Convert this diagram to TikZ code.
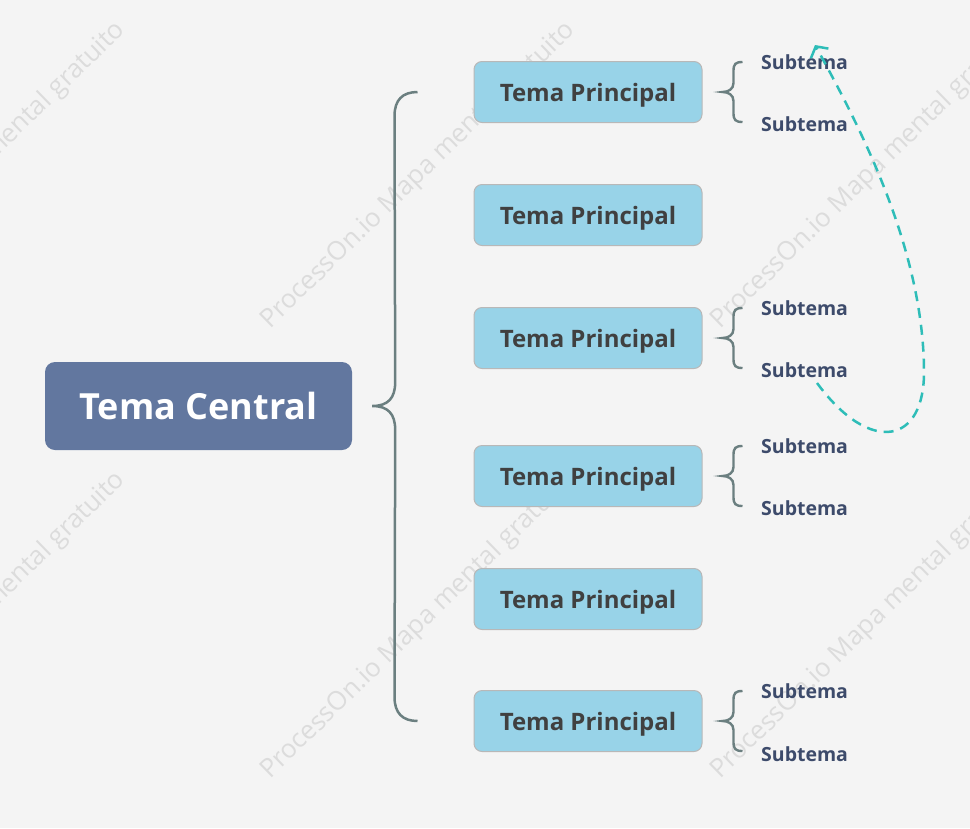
\documentclass[tikz,border=0pt]{standalone}
\usepackage{fontspec}
\setmainfont{Open Sans}
\usetikzlibrary{arrows.meta,calc}
\definecolor{bgcol}{HTML}{F4F4F4}
\definecolor{centralcol}{HTML}{62779F}
\definecolor{pfill}{HTML}{98D3E8}
\definecolor{pborder}{HTML}{B8B8B8}
\definecolor{ptext}{HTML}{404040}
\definecolor{stext}{HTML}{3D4B6B}
\definecolor{bracecol}{HTML}{6B7F80}
\definecolor{dashteal}{HTML}{2EBDB8}
\definecolor{wmcol}{HTML}{DCDCDC}
\begin{document}
\begin{tikzpicture}[x=1pt,y=-1pt,
  cbox/.style={fill=centralcol, rounded corners=10pt, minimum width=307pt, minimum height=88pt, text=white, font=\bfseries\fontsize{36}{40}\selectfont, text depth=0pt, inner sep=0pt},
  pbox/.style={fill=pfill, draw=pborder, line width=1pt, rounded corners=8pt, minimum width=228pt, minimum height=61pt, text=ptext, font=\bfseries\fontsize{24}{28}\selectfont, text depth=0pt, inner sep=0pt},
  subnode/.style={anchor=base west, inner sep=0pt, text=stext, font=\bfseries\fontsize{19.5}{22}\selectfont},
  bracket/.style={draw=bracecol, line width=2.5pt},
  sbracket/.style={draw=bracecol, line width=2.4pt},
  wmark/.style={anchor=base west, rotate=44.3, text=wmcol, font=\fontsize{26}{30}\selectfont, inner sep=0pt},
  link/.style={draw=dashteal, line width=2.5pt, dash pattern=on 10pt off 7pt, -{Straight Barb[length=8pt,width=20pt,line width=2.5pt]}}
]
\fill[bgcol] (0,0) rectangle (970,828);
\useasboundingbox (0,0) rectangle (970,828);
\clip (0,0) rectangle (970,828);

% watermarks
\foreach \x/\i in {-180/a,270/b,720/c}
  \foreach \y/\j in {330/a,780/b}
    \node[wmark] (wm\i\j) at (\x,\y) {ProcessOn.io Mapa mental gratuito};

% central topic
\node[cbox] (central) at (198.5,406) {Tema Central};

% main topics
\node[pbox] (p1) at (588,92) {Tema Principal};
\node[pbox] (p2) at (588,215) {Tema Principal};
\node[pbox] (p3) at (588,338) {Tema Principal};
\node[pbox] (p4) at (588,476) {Tema Principal};
\node[pbox] (p5) at (588,599) {Tema Principal};
\node[pbox] (p6) at (588,721) {Tema Principal};

% main brace
\coordinate (ctip) at ($(central.east)+(20,0)$);
\coordinate (btop) at ($(p1.west)+(-56,0)$);
\coordinate (bbot) at ($(p6.west)+(-56,0)$);
\draw[bracket] (btop) .. controls +(-15,0) and +(0,-16) .. ($(btop)+(-23,24)$)
  -- ($(ctip)+(23,-24)$) .. controls +(0,16) and +(16,0) .. (ctip)
  .. controls +(16,0) and +(0,-16) .. ($(ctip)+(23,24)$)
  -- ($(bbot)+(-23,-24)$) .. controls +(0,16) and +(-15,0) .. (bbot);

% sub braces
\foreach \k in {1,3,4,6}{
  \coordinate (t\k) at ($(p\k.east)+(20,0)$);
  \draw[sbracket] ($(t\k)+(20,-30)$) .. controls +(-7,0) and +(0,-7) .. ($(t\k)+(11,-21)$)
    -- ($(t\k)+(11,-9)$) .. controls +(0,6) and +(6,0) .. (t\k)
    .. controls +(6,0) and +(0,-6) .. ($(t\k)+(11,9)$)
    -- ($(t\k)+(11,21)$) .. controls +(0,7) and +(-7,0) .. ($(t\k)+(20,30)$);
}

% subtopics
\node[subnode] (s1a) at (761,69) {Subtema};
\node[subnode] (s1b) at (761,131) {Subtema};
\node[subnode] (s3a) at (761,315) {Subtema};
\node[subnode] (s3b) at (761,377) {Subtema};
\node[subnode] (s4a) at (761,453) {Subtema};
\node[subnode] (s4b) at (761,515) {Subtema};
\node[subnode] (s6a) at (761,698) {Subtema};
\node[subnode] (s6b) at (761,761) {Subtema};

% dashed link
\coordinate (cstart) at (817,383);
\coordinate (cend) at (815,45);
\draw[link] (cstart) .. controls (870,455) and (925,445) .. (924,370)
  .. controls (923,250) and (862,130) .. (cend);
\end{tikzpicture}
\end{document}
